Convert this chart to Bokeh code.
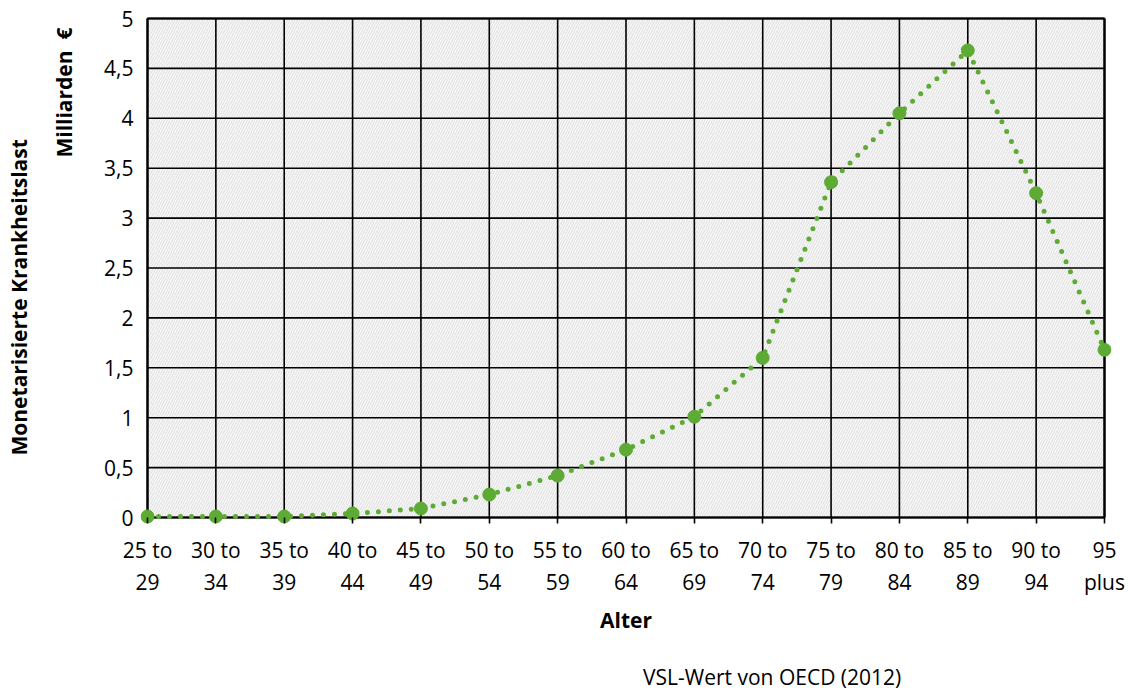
from bokeh.plotting import figure
from bokeh.layouts import column
from bokeh.models import (FixedTicker, BoxAnnotation, Title, Legend, LegendItem, Range1d)
from bokeh.embed import file_html
from bokeh.resources import INLINE

# ---- data ----
age_groups = ["25 to\n29", "30 to\n34", "35 to\n39", "40 to\n44", "45 to\n49",
              "50 to\n54", "55 to\n59", "60 to\n64", "65 to\n69", "70 to\n74",
              "75 to\n79", "80 to\n84", "85 to\n89", "90 to\n94", "95\nplus"]
vsl_oecd_2012 = [0.01, 0.01, 0.01, 0.04, 0.09, 0.23, 0.42, 0.68, 1.01, 1.60,
                 3.36, 4.05, 4.68, 3.25, 1.68]
y_ticks = [0, 0.5, 1, 1.5, 2, 2.5, 3, 3.5, 4, 4.5, 5]
y_tick_labels = ["0", "0,5", "1", "1,5", "2", "2,5", "3", "3,5", "4", "4,5", "5"]
series_name = "VSL-Wert von OECD (2012)"
x_title = "Alter"
y_title_outer = "Monetarisierte Krankheitslast"
y_title_inner = "Milliarden \u00a0€"

GREEN = "#5DAB35"
FONT = "Open Sans"

xs = list(range(len(age_groups)))
n = len(xs)
y_min, y_max = y_ticks[0], y_ticks[-1]

# plot box geometry (pixels) and padding so edge markers are not clipped
BOX_W, BOX_H = 957, 499
PAD_X, PAD_Y = 7, 6
pad_x = PAD_X * (n - 1) / BOX_W
pad_y = PAD_Y * (y_max - y_min) / BOX_H
BORDER_L, BORDER_R, BORDER_T, BORDER_B = 140, 17, 12, 140
FIG_W = BORDER_L + BOX_W + 2 * PAD_X + BORDER_R

p = figure(frame_width=BOX_W + 2 * PAD_X, frame_height=BOX_H + 2 * PAD_Y,
           x_range=Range1d(xs[0] - pad_x, xs[-1] + pad_x),
           y_range=Range1d(y_min - pad_y, y_max + pad_y),
           output_backend="svg", toolbar_location=None,
           min_border_left=BORDER_L, min_border_right=BORDER_R,
           min_border_top=BORDER_T, min_border_bottom=BORDER_B)
p.background_fill_color = "white"
p.border_fill_color = "white"
p.outline_line_color = None

# plot area: hatched background with black frame
p.add_layout(BoxAnnotation(left=xs[0], right=xs[-1], bottom=y_min, top=y_max,
                           fill_color="#FAFAFA", fill_alpha=1,
                           hatch_pattern="/", hatch_color="#E2E2E2",
                           hatch_scale=5, hatch_weight=1.2,
                           line_color="black", line_width=2, level="image"))

# grid lines at the tick positions
p.xgrid.visible = False
p.ygrid.visible = False
p.segment(x0=xs, y0=[y_min] * n, x1=xs, y1=[y_max] * n,
          line_color="black", line_width=1.6)
p.segment(x0=[xs[0]] * len(y_ticks), y0=y_ticks, x1=[xs[-1]] * len(y_ticks),
          y1=y_ticks, line_color="black", line_width=1.6)
p.segment(x0=[xs[0], xs[0], xs[-1], xs[0]], y0=[y_min, y_max, y_min, y_min],
          x1=[xs[-1], xs[-1], xs[-1], xs[0]], y1=[y_min, y_max, y_max, y_max],
          line_color="black", line_width=2.2)

# axes
p.xaxis.ticker = FixedTicker(ticks=xs)
p.xaxis.major_label_overrides = {i: lab for i, lab in enumerate(age_groups)}
p.yaxis.ticker = FixedTicker(ticks=y_ticks)
p.yaxis.major_label_overrides = {t: l for t, l in zip(y_ticks, y_tick_labels)}
for ax in (p.xaxis, p.yaxis):
    ax.major_label_text_font = FONT
    ax.major_label_text_font_size = "21px"
    ax.major_label_text_color = "black"
    ax.axis_line_color = None
    ax.minor_tick_line_color = None
    ax.major_tick_line_color = "black"
    ax.major_tick_line_width = 1.6
p.xaxis.major_tick_in = PAD_Y
p.xaxis.major_tick_out = 0
p.yaxis.major_tick_line_color = None
p.yaxis.major_tick_in = 0
p.yaxis.major_tick_out = 0
p.xaxis.major_label_standoff = 12
p.yaxis.major_label_standoff = 7
p.xaxis.major_label_text_line_height = 1.17
p.xaxis.axis_label = x_title
p.xaxis.axis_label_text_font = FONT
p.xaxis.axis_label_text_font_size = "21px"
p.xaxis.axis_label_text_font_style = "bold"
p.xaxis.axis_label_text_color = "black"
p.xaxis.axis_label_standoff = 7

# y titles (two lines of the y-axis title)
t_inner = Title(text=y_title_inner, align="right", text_font=FONT,
                text_font_size="21px", text_font_style="bold", text_color="black",
                offset=15, standoff=48)
t_outer = Title(text=y_title_outer, align="left", text_font=FONT,
                text_font_size="21px", text_font_style="bold", text_color="black",
                offset=68, standoff=-18)
p.add_layout(t_inner, "left")
p.add_layout(t_outer, "left")

# series
p.line(xs, vsl_oecd_2012, line_color=GREEN, line_width=5,
       line_dash="0 11", line_cap="round")
p.scatter(xs, vsl_oecd_2012, size=13, marker="circle",
          fill_color=GREEN, line_color=GREEN)

# legend strip below the chart (same styling as the series)
lf = figure(width=FIG_W, height=28, x_range=Range1d(0, 1), y_range=Range1d(0, 1),
            x_axis_type=None, y_axis_type=None, output_backend="svg",
            toolbar_location=None, min_border_left=0, min_border_right=0,
            min_border_top=0, min_border_bottom=0)
lf.outline_line_color = None
lf.background_fill_color = "white"
lf.border_fill_color = "white"
lf.xgrid.visible = False
lf.ygrid.visible = False
k_line = lf.line(x=[], y=[], line_color=GREEN, line_width=5,
                 line_dash="0 11", line_cap="round")
k_pts = lf.scatter(x=[], y=[], size=13, marker="circle",
                   fill_color=GREEN, line_color=GREEN)
legend = Legend(items=[LegendItem(label=series_name, renderers=[k_line, k_pts])],
                orientation="horizontal", location=(431, 0),
                label_text_font=FONT, label_text_font_size="21px",
                label_text_color="black", glyph_width=64, label_standoff=8,
                border_line_color=None, background_fill_alpha=0,
                padding=1, margin=0)
lf.add_layout(legend, "center")

layout = column(p, lf, spacing=0)
open("out.html", "w").write(file_html(layout, INLINE))
